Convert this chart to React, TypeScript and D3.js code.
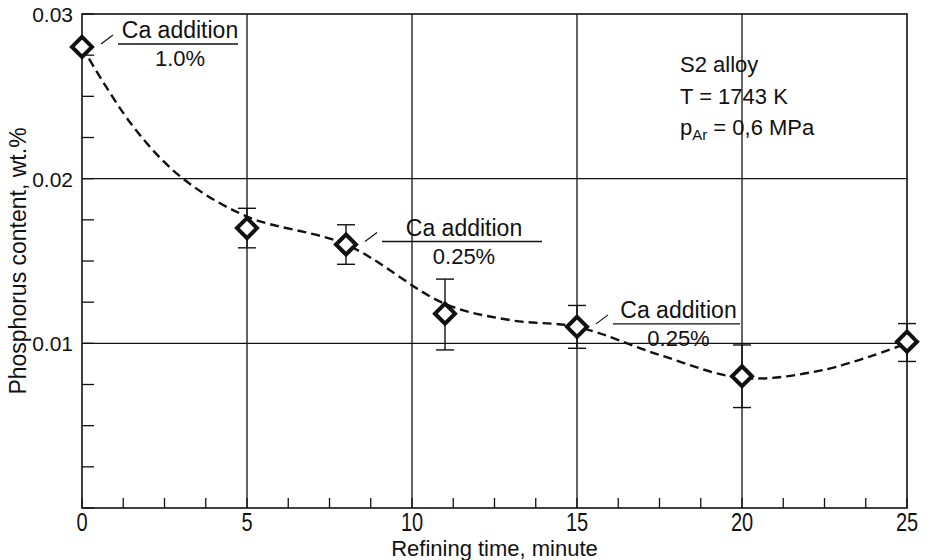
import { useEffect, useRef } from 'react'
import * as d3 from 'd3'

// measured points (refining time, min / P content, wt.%)
const times = [0, 5, 8, 11, 15, 20, 25]
const phosphorus = [0.028, 0.017, 0.016, 0.0118, 0.011, 0.008, 0.0101]
const errHigh = [null, 0.0182, 0.0172, 0.0139, 0.0123, 0.0099, 0.0112]
const errLow = [null, 0.0158, 0.0148, 0.0096, 0.0097, 0.0061, 0.0089]

// dashed trend line as drawn in the figure
const trendTime = [0, 1.5, 3, 5, 8, 11, 13, 15, 17.5, 20, 22.5, 25]
const trendValue = [0.028, 0.0233, 0.0201, 0.0177, 0.016, 0.0124, 0.0114, 0.011, 0.0093, 0.0079, 0.0084, 0.01]

const xTicks = [0, 5, 10, 15, 20, 25]
const yTicks = [0.01, 0.02, 0.03]
const yTickLabels = ['0.01', '0.02', '0.03']

// Ca additions
const addTime = [0, 8, 15]
const addValue = [0.028, 0.016, 0.011]
const addAmount = ['1.0%', '0.25%', '0.25%']

const FONT = '"Liberation Sans", Arial, Helvetica, sans-serif'

export default function App() {
  const ref = useRef<SVGSVGElement>(null)

  useEffect(() => {
    const width = 932
    const height = 560
    const margin = { top: 14, right: 25, bottom: 52, left: 82 }
    const svg = d3.select(ref.current)
    svg.selectAll('*').remove()
    svg.attr('viewBox', `0 0 ${width} ${height}`)

    const x = d3.scaleLinear().domain([0, 25]).range([margin.left, width - margin.right])
    const y = d3.scaleLinear().domain([0, 0.03]).range([height - margin.bottom, margin.top])
    const [x0, x1] = x.range()
    const [y0, y1] = y.range()

    svg.append('rect').attr('width', width).attr('height', height).attr('fill', '#fff')

    // grid
    const grid = svg.append('g').attr('stroke', '#111').attr('stroke-width', 1.3)
    xTicks.slice(1, -1).forEach(t => {
      grid.append('line').attr('x1', x(t)).attr('x2', x(t)).attr('y1', y0).attr('y2', y1)
    })
    yTicks.slice(0, -1).forEach(v => {
      grid.append('line').attr('x1', x0).attr('x2', x1).attr('y1', y(v)).attr('y2', y(v))
    })

    // minor ticks (inward)
    d3.range(0, 25.01, 1.25).forEach(t => {
      grid.append('line').attr('x1', x(t)).attr('x2', x(t)).attr('y1', y0).attr('y2', y0 - 10)
    })
    d3.range(0, 0.03001, 0.0025).forEach(v => {
      grid.append('line').attr('x1', x0).attr('x2', x0 + 12).attr('y1', y(v)).attr('y2', y(v))
    })

    // frame
    svg.append('rect')
      .attr('x', x0).attr('y', y1).attr('width', x1 - x0).attr('height', y0 - y1)
      .attr('fill', 'none').attr('stroke', '#111').attr('stroke-width', 1.6)

    // tick labels
    const labels = svg.append('g').attr('font-family', FONT).attr('fill', '#111')
    xTicks.forEach(t => {
      labels.append('text')
        .attr('transform', `translate(${x(t)},${y0 + 23}) scale(0.8,1)`)
        .attr('text-anchor', 'middle').attr('font-size', 25).text(t)
    })
    yTicks.forEach((v, i) => {
      labels.append('text').attr('x', x0 - 9).attr('y', y(v) + 8)
        .attr('text-anchor', 'end').attr('font-size', 21).text(yTickLabels[i])
    })
    labels.append('text').attr('x', (x0 + x1) / 2).attr('y', y0 + 48)
      .attr('text-anchor', 'middle').attr('font-size', 22).text('Refining time, minute')
    labels.append('text')
      .attr('transform', `translate(26,${(y0 + y1) / 2}) rotate(-90)`)
      .attr('text-anchor', 'middle').attr('font-size', 23).text('Phosphorus content, wt.%')

    // trend curve
    const line = d3.line<number>()
      .x((_, i) => x(trendTime[i]))
      .y(d => y(d))
      .curve(d3.curveCatmullRom.alpha(0.5))
    svg.append('path').attr('d', line(trendValue))
      .attr('fill', 'none').attr('stroke', '#111').attr('stroke-width', 2.4)
      .attr('stroke-dasharray', '9,5')

    // error bars
    const eb = svg.append('g').attr('stroke', '#111').attr('stroke-width', 1.4)
    times.forEach((t, i) => {
      const hi = errHigh[i]
      const lo = errLow[i]
      if (hi == null || lo == null) return
      const cx = x(t)
      eb.append('line').attr('x1', cx).attr('x2', cx).attr('y1', y(hi)).attr('y2', y(lo))
      ;[hi, lo].forEach(v => {
        eb.append('line').attr('x1', cx - 9).attr('x2', cx + 9).attr('y1', y(v)).attr('y2', y(v))
      })
    })

    // diamonds
    const r = 10
    svg.append('g').selectAll('path').data(times).join('path')
      .attr('d', (t, i) => {
        const cx = x(t)
        const cy = y(phosphorus[i])
        return `M${cx},${cy - r}L${cx + r},${cy}L${cx},${cy + r}L${cx - r},${cy}Z`
      })
      .attr('fill', '#fff').attr('stroke', '#111').attr('stroke-width', 4)
      .attr('stroke-linejoin', 'miter')

    // Ca addition annotations
    const lineLen = [120, 160, 127]
    const ann = svg.append('g').attr('font-family', FONT).attr('fill', '#111')
    addTime.forEach((t, i) => {
      const px = x(t)
      const py = y(addValue[i]) - 3
      const start = px + 36
      const end = start + lineLen[i]
      ann.append('line').attr('x1', px + 19).attr('y1', py).attr('x2', px + 31).attr('y2', py - 9)
        .attr('stroke', '#111').attr('stroke-width', 1.2)
      ann.append('line').attr('x1', start).attr('y1', py).attr('x2', end).attr('y2', py)
        .attr('stroke', '#111').attr('stroke-width', 1.4)
      const cx = (start + end) / 2 + 2
      ann.append('text').attr('x', cx).attr('y', py - 6)
        .attr('text-anchor', 'middle').attr('font-size', 23).text('Ca addition')
      ann.append('text').attr('x', cx).attr('y', py + 22)
        .attr('text-anchor', 'middle').attr('font-size', 22).text(addAmount[i])
    })

    // conditions
    const info = svg.append('g').attr('font-family', FONT).attr('fill', '#111').attr('font-size', 22)
    info.append('text').attr('x', 680).attr('y', 72).text('S2 alloy')
    info.append('text').attr('x', 680).attr('y', 104).text('T = 1743 K')
    const p = info.append('text').attr('x', 680).attr('y', 135)
    p.append('tspan').text('p')
    p.append('tspan').attr('font-size', 15).attr('dy', 5).text('Ar')
    p.append('tspan').attr('dy', -5).text(' = 0,6 MPa')
  }, [])

  return <svg ref={ref} width={932} height={560} style={{ position: 'absolute', left: 0, top: 0, display: 'block' }} />
}
